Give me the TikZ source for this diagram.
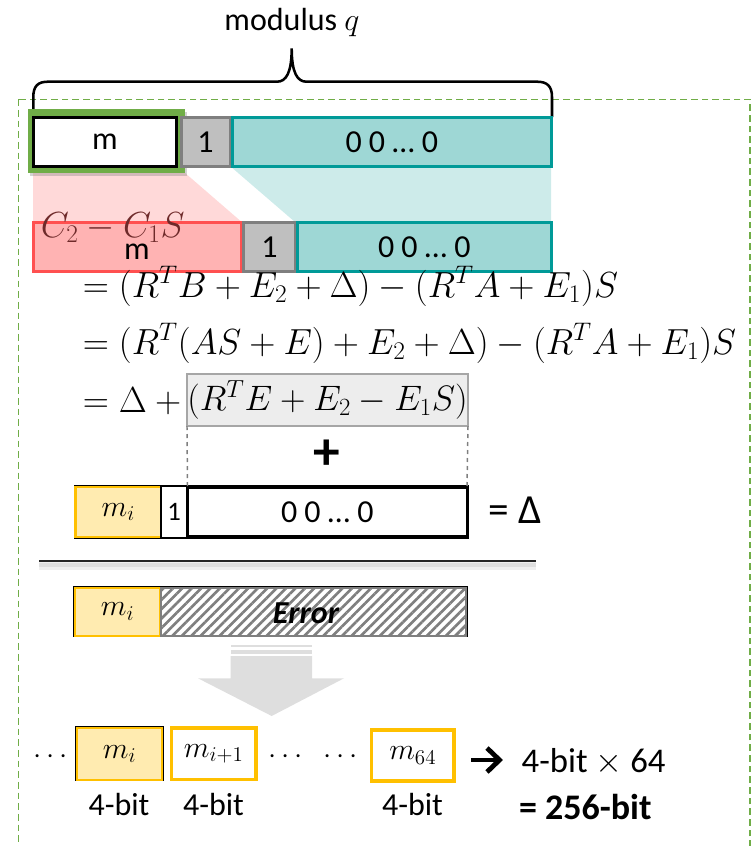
\documentclass[tikz,border=0pt]{standalone}
\usepackage{fix-cm}
\usepackage{fontspec}
\setmainfont{Carlito}
\usetikzlibrary{shadows,patterns.meta}

\definecolor{frameGreen}{HTML}{70AD47}
\definecolor{tealLine}{HTML}{009A98}
\definecolor{tealFill}{HTML}{9ED7D5}
\definecolor{tealPale}{HTML}{CDEBEA}
\definecolor{pinkPale}{HTML}{FFD9D9}
\definecolor{redFill}{HTML}{FFB3B3}
\definecolor{redLine}{HTML}{FF5050}
\definecolor{grayFill}{HTML}{BFBFBF}
\definecolor{grayLine}{HTML}{7F7F7F}
\definecolor{goldLine}{HTML}{FFC000}
\definecolor{goldFill}{HTML}{FFEBB0}
\definecolor{noiseFill}{HTML}{EDEDED}
\definecolor{noiseLine}{HTML}{A6A6A6}
\definecolor{arrowGray}{HTML}{DEDEDE}
\definecolor{diffText}{HTML}{6E2A2A}
\definecolor{ruleDark}{HTML}{262626}

\begin{document}
\begin{tikzpicture}[x=0.75pt,y=-0.75pt,
  txt/.style={inner sep=0pt, outer sep=0pt, font=\fontsize{24}{28}\selectfont},
  span/.style n args={4}{at={({(#1+#3)/2},{(#2+#4)/2})},
    minimum width={(#3-#1)*0.75pt}, minimum height={(#4-#2)*0.75pt}},
  cell/.style={txt, line width=2.25pt},
  mathcell/.style={font=\fontsize{22.5}{26}\selectfont},
  eqn/.style={anchor=base west, inner sep=0pt, font=\fontsize{27.2}{31}\selectfont},
  tealcell/.style={cell, draw=tealLine, fill=tealFill},
  graycell/.style={cell, draw=grayLine, fill=grayFill},
  goldcell/.style={cell, mathcell, draw=goldLine, fill=goldFill, line width=1.8pt},
  chunk/.style={cell, mathcell, draw=goldLine, fill=white, line width=2.6pt},
  dots/.style={txt, font=\fontsize{22}{26}\selectfont},
  bitlabel/.style={txt, font=\fontsize{24}{28}\selectfont},
]
\useasboundingbox (0,0) rectangle (752,846);
\clip (0,0) rectangle (752,846);

% outer dashed frame
\draw[frameGreen, line width=1.2pt, dash pattern=on 5pt off 3pt] (18.3,99.3) rectangle (750,870);

% modulus brace and label
\node[txt] (modlabel) at (292,23) {modulus $q$};
\draw[line width=1.9pt]
  (33.3,117) -- (33.3,97) .. controls (33.3,86) and (38,81.7) .. (48,81.7)
  -- (277,81.7) .. controls (286,81.7) and (291.7,73) .. (291.7,48.3)
  .. controls (291.7,73) and (297.4,81.7) .. (306.4,81.7)
  -- (537,81.7) .. controls (547,81.7) and (552,86) .. (552,97) -- (552,117);

% projections between the two rows
\fill[pinkPale] (33,166) -- (177,166) -- (241.7,222) -- (33,222) -- cycle;
\fill[tealPale] (230,166) -- (551,166) -- (551,222) -- (295,222) -- cycle;

% upper row
\fill[frameGreen, drop shadow={opacity=0.35, shadow xshift=1.5pt, shadow yshift=-2pt}]
  (28.3,109) rectangle (185,173);
\node[cell, draw=black, fill=white, span={33.5}{117.5}{176.5}{166}] (mtop) {m};
\node[graycell, span={181}{117.5}{230}{166}] (onetop) {1};
\node[tealcell, span={232.5}{117.5}{551}{166}] (zerotop) {0 0 … 0};

% lower row
\node[cell, draw=redLine, fill=redFill, span={33.5}{222.5}{241.5}{271.5}] (mred) {};
\node[graycell, span={243.5}{222.5}{295.5}{271.5}] (onelow) {1};
\node[tealcell, span={297.5}{222.5}{551}{271.5}] (zerolow) {0 0 … 0};
\node[eqn, text=diffText] (diff) at (40.7,237) {$C_2 - C_1 S$};
\node[txt] (mredtext) at (137,252) {m};

% derivation
\node[eqn] (eqA) at (82.6,297) {$= (R^T B + E_2 + \Delta) - (R^T A + E_1)S$};
\node[eqn] (eqB) at (82.6,354) {$= (R^T(AS + E) + E_2 + \Delta) - (R^T A + E_1)S$};
\node[eqn] (eqC) at (82.6,412) {$= \Delta +{}$};
\node[txt, font=\fontsize{26.5}{30}\selectfont, draw=noiseLine, fill=noiseFill, line width=1.5pt,
      span={187}{374}{468}{426}] (noise) {$(R^T E + E_2 - E_1 S)$};

% encoded message block
\draw[black, line width=0.8pt] (74.5,486) rectangle (468,538);
\node[goldcell, span={75.5}{487}{161}{537}] (miD) {$m_i$};
\node[txt, draw=black, fill=white, line width=0.9pt, font=\fontsize{20}{24}\selectfont,
      span={161}{486.5}{187.5}{537.5}] (oneD) {1};
\node[cell, draw=black, fill=white, span={187.5}{487.3}{467}{536.7}] (zeroD) {0 0 … 0};
\node[txt, font=\fontsize{31}{34}\selectfont] (eqDelta) at (515,510) {= Δ};

\draw[grayLine, line width=1.1pt, dashed] (noise.south west) -- (zeroD.north west);
\draw[grayLine, line width=1.1pt, dashed] (noise.south east) -- (zeroD.north east);
\node[txt, font=\fontsize{40}{40}\selectfont\bfseries] (plus) at (327,455) {+};

% separating rule with soft shadow
\coordinate (ruleL) at (39.4,560.7);
\coordinate (ruleR) at (536,560.7);
\draw[black, opacity=0.06, line width=6pt] ([yshift=-4pt]ruleL) -- ([yshift=-4pt]ruleR);
\draw[black, opacity=0.07, line width=3pt] ([yshift=-3pt]ruleL) -- ([yshift=-3pt]ruleR);
\draw[ruleDark, line width=1.5pt] (ruleL) -- (ruleR);

% decrypted block
\draw[black, line width=0.8pt] (74,586.7) rectangle (467,636.7);
\node[goldcell, span={75}{587.7}{160}{635.7}] (miE) {$m_i$};
\node[txt, draw=grayLine, line width=1.6pt,
      pattern={Lines[angle=45, distance=5pt, line width=2pt]}, pattern color=grayLine,
      span={161}{587.7}{466}{635.7}] (errE) {};
\node[txt, font=\fontsize{24}{28}\selectfont\bfseries\itshape] (errtext) at (306,613) {Error};

% big downward arrow
\fill[arrowGray] (230.7,644.5) rectangle (312,646.5);
\fill[arrowGray] (230.7,649.5) rectangle (312,654);
\fill[arrowGray] (230.7,656) -- (312,656) -- (312,678.3) -- (344,678.3) -- (271.7,716)
  -- (198,678.3) -- (230.7,678.3) -- cycle;

% message chunks
\node[dots] (dotsA) at (51,757) {$\cdots$};
\draw[black, line width=0.8pt] (76,727) rectangle (163,780.7);
\node[goldcell, span={77}{728}{162}{779.7}] (miB) {$m_i$};
\node[chunk, span={171.5}{728}{256}{779.7}] (miNext) {$m_{i+1}$};
\node[dots] (dotsB) at (286,757) {$\cdots$};
\node[dots] (dotsC) at (341,757) {$\cdots$};
\node[chunk, span={371.5}{730}{454}{781}] (mLast) {$m_{64}$};

\node[bitlabel] (bitA) at (119,804) {4-bit};
\node[bitlabel] (bitB) at (213.5,804) {4-bit};
\node[bitlabel] (bitC) at (412.5,804) {4-bit};

% result arrow and total
\coordinate (resA) at (471,760);
\coordinate (resB) at (498,760);
\draw[line width=3.6pt] (resA) -- (resB);
\draw[line width=3.6pt, line join=miter] (487,748) -- (499.5,760) -- (487,772);
\node[txt, anchor=west, font=\fontsize{26}{30}\selectfont] (total) at (521.7,762) {4-bit $\times$ 64};
\node[txt, anchor=west, font=\fontsize{27}{30}\selectfont\bfseries] (sum) at (519,807) {= 256-bit};
\end{tikzpicture}
\end{document}
